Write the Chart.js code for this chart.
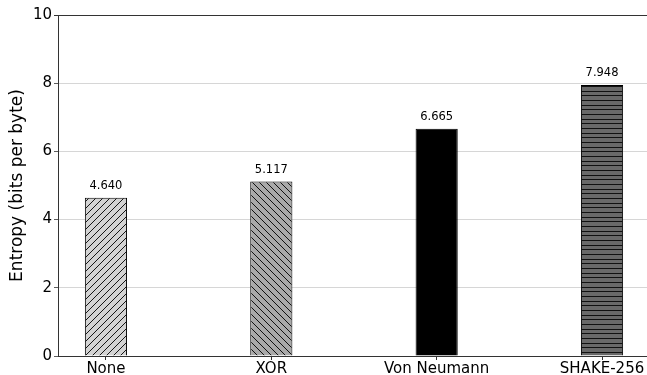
<!DOCTYPE html>
<html>
<head>
<meta charset="utf-8">
<script src="https://cdn.jsdelivr.net/npm/chart.js@4.4.1/dist/chart.umd.min.js"></script>
<style>
  html, body { margin: 0; padding: 0; background: #ffffff; }
  #wrap { width: 647px; height: 375px; position: relative; }
</style>
</head>
<body>
<div id="wrap"><canvas id="c" width="647" height="375"></canvas></div>
<script>
// Entropy per extractor method
const methods = ['None', 'XOR', 'Von Neumann', 'SHAKE-256'];
const entropy = [4.640, 5.117, 6.665, 7.948];
const yTicks = [0, 2, 4, 6, 8, 10];

const FONT = 'DejaVu Sans';

// Hatch fills
function hatch(kind, base) {
  const c = document.createElement('canvas');
  const g = c.getContext('2d');
  if (kind === 'h') {
    c.width = 4; c.height = 14;
    g.fillStyle = base; g.fillRect(0, 0, 4, 14);
    g.fillStyle = '#111';
    [2, 7, 11].forEach(r => g.fillRect(0, r, 4, 1));
  } else {
    const p = 7;
    c.width = p; c.height = p;
    g.fillStyle = base; g.fillRect(0, 0, p, p);
    g.strokeStyle = '#000'; g.lineWidth = 0.9;
    g.beginPath();
    if (kind === '/') {
      g.moveTo(-1, p + 1); g.lineTo(p + 1, -1);
      g.moveTo(-1, 1); g.lineTo(1, -1);
      g.moveTo(p - 1, p + 1); g.lineTo(p + 1, p - 1);
    } else {
      g.moveTo(-1, -1); g.lineTo(p + 1, p + 1);
      g.moveTo(p - 1, -1); g.lineTo(p + 1, 1);
      g.moveTo(-1, p - 1); g.lineTo(1, p + 1);
    }
    g.stroke();
  }
  return g.createPattern(c, 'repeat');
}

const fills = [
  hatch('/', '#d3d3d3'),
  hatch('\\', '#a9a9a9'),
  '#000000',
  hatch('h', '#696969')
];

const valueLabels = {
  id: 'valueLabels',
  afterDatasetsDraw(chart) {
    const ctx = chart.ctx;
    const meta = chart.getDatasetMeta(0);
    ctx.save();
    ctx.font = '11.5px "' + FONT + '"';
    ctx.fillStyle = '#000';
    ctx.textAlign = 'center';
    ctx.textBaseline = 'alphabetic';
    meta.data.forEach((bar, i) => {
      ctx.fillText(entropy[i].toFixed(3), bar.x, bar.y - 9);
    });
    ctx.restore();
  }
};

new Chart(document.getElementById('c'), {
  type: 'bar',
  data: {
    datasets: [{
      data: entropy.map((v, i) => ({ x: i, y: v })),
      backgroundColor: fills,
      borderColor: '#000000',
      borderWidth: 1,
      borderSkipped: 'start',
      barPercentage: 0.255,
      categoryPercentage: 1.0
    }]
  },
  options: {
    responsive: false,
    animation: false,
    devicePixelRatio: 1,
    layout: { padding: { top: 15, right: 0, bottom: 0, left: 0 } },
    plugins: { legend: { display: false }, tooltip: { enabled: false } },
    scales: {
      x: {
        type: 'linear',
        offset: false,
        min: -0.29,
        max: 3.272,
        afterBuildTicks: s => { s.ticks = methods.map((m, i) => ({ value: i })); },
        afterFit: s => { s.height = 19; },
        grid: { offset: false, drawOnChartArea: false, drawTicks: true, tickLength: 4, color: '#333333', tickColor: '#333333' },
        border: { display: true, color: '#333333', width: 1 },
        ticks: {
          autoSkip: false, maxRotation: 0, padding: 0,
          font: { family: FONT, size: 15 }, color: '#000',
          callback: v => methods[v]
        }
      },
      y: {
        min: 0,
        max: 10,
        afterBuildTicks: s => { s.ticks = yTicks.map(v => ({ value: v })); },
        afterFit: s => { s.width = 58; },
        grid: {
          drawTicks: true, tickLength: 4,
          color: c => (c.tick && c.tick.value === 10) ? '#333333' : (c.tick && c.tick.value === 0 ? 'rgba(0,0,0,0)' : '#cccccc'),
          lineWidth: c => (c.tick && c.tick.value === 10) ? 1 : 0.8,
          tickColor: '#333333'
        },
        border: { display: true, color: '#333333', width: 1 },
        ticks: { padding: 2, font: { family: FONT, size: 15 }, color: '#000' },
        title: {
          display: true,
          text: 'Entropy (bits per byte)',
          font: { family: FONT, size: 17 },
          color: '#000',
          padding: { top: 7, bottom: 0 }
        }
      }
    }
  },
  plugins: [valueLabels]
});
</script>
</body>
</html>
